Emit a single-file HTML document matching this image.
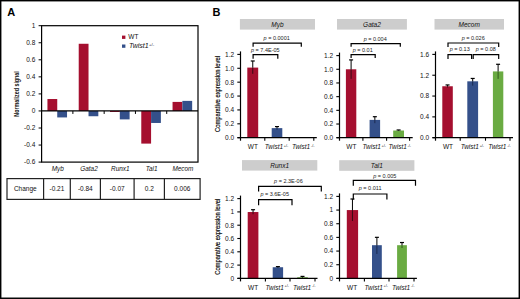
<!DOCTYPE html>
<html><head><meta charset="utf-8"><style>
html,body{margin:0;padding:0;background:#fff;}
svg{display:block;}
text{font-family:"Liberation Sans",sans-serif;}
</style></head><body>
<svg width="520" height="299" viewBox="0 0 520 299">
<rect width="520" height="299" fill="#fff"/>
<rect x="0.7" y="0.7" width="518.6" height="297.55" fill="none" stroke="#000" stroke-width="1.45"/>
<text x="7.20" y="16.10" font-size="11" text-anchor="start" fill="#000" font-weight="bold">A</text>
<rect x="47.44" y="99.02" width="9.80" height="11.94" fill="#a50f2f"/>
<rect x="57.24" y="110.95" width="9.80" height="6.48" fill="#34508a"/>
<rect x="78.72" y="43.77" width="9.80" height="67.18" fill="#a50f2f"/>
<rect x="88.52" y="110.95" width="9.80" height="5.29" fill="#34508a"/>
<rect x="110.00" y="110.95" width="9.80" height="1.02" fill="#a50f2f"/>
<rect x="119.80" y="110.95" width="9.80" height="8.44" fill="#34508a"/>
<rect x="141.28" y="110.95" width="9.80" height="32.65" fill="#a50f2f"/>
<rect x="151.08" y="110.95" width="9.80" height="12.02" fill="#34508a"/>
<rect x="172.56" y="101.91" width="9.80" height="9.04" fill="#a50f2f"/>
<rect x="182.36" y="100.89" width="9.80" height="10.06" fill="#34508a"/>
<rect x="41.6" y="25.7" width="156.40" height="136.40" fill="none" stroke="#000" stroke-width="1.2"/>
<line x1="41.60" y1="110.95" x2="198.00" y2="110.95" stroke="#000" stroke-width="1.3"/>
<line x1="38.60" y1="25.70" x2="41.60" y2="25.70" stroke="#000" stroke-width="1"/>
<text x="35.30" y="28.00" font-size="6.5" text-anchor="end" fill="#111">1</text>
<line x1="38.60" y1="42.75" x2="41.60" y2="42.75" stroke="#000" stroke-width="1"/>
<text x="35.30" y="45.05" font-size="6.5" text-anchor="end" fill="#111">0.8</text>
<line x1="38.60" y1="59.80" x2="41.60" y2="59.80" stroke="#000" stroke-width="1"/>
<text x="35.30" y="62.10" font-size="6.5" text-anchor="end" fill="#111">0.6</text>
<line x1="38.60" y1="76.85" x2="41.60" y2="76.85" stroke="#000" stroke-width="1"/>
<text x="35.30" y="79.15" font-size="6.5" text-anchor="end" fill="#111">0.4</text>
<line x1="38.60" y1="93.90" x2="41.60" y2="93.90" stroke="#000" stroke-width="1"/>
<text x="35.30" y="96.20" font-size="6.5" text-anchor="end" fill="#111">0.2</text>
<line x1="38.60" y1="110.95" x2="41.60" y2="110.95" stroke="#000" stroke-width="1"/>
<text x="35.30" y="113.25" font-size="6.5" text-anchor="end" fill="#111">0</text>
<line x1="38.60" y1="128.00" x2="41.60" y2="128.00" stroke="#000" stroke-width="1"/>
<text x="35.30" y="130.30" font-size="6.5" text-anchor="end" fill="#111">-0.2</text>
<line x1="38.60" y1="145.05" x2="41.60" y2="145.05" stroke="#000" stroke-width="1"/>
<text x="35.30" y="147.35" font-size="6.5" text-anchor="end" fill="#111">-0.4</text>
<line x1="38.60" y1="162.10" x2="41.60" y2="162.10" stroke="#000" stroke-width="1"/>
<text x="35.30" y="164.40" font-size="6.5" text-anchor="end" fill="#111">-0.6</text>
<line x1="72.88" y1="110.95" x2="72.88" y2="113.95" stroke="#000" stroke-width="1"/>
<line x1="104.16" y1="110.95" x2="104.16" y2="113.95" stroke="#000" stroke-width="1"/>
<line x1="135.44" y1="110.95" x2="135.44" y2="113.95" stroke="#000" stroke-width="1"/>
<line x1="166.72" y1="110.95" x2="166.72" y2="113.95" stroke="#000" stroke-width="1"/>
<rect x="122.00" y="35.60" width="3.40" height="3.30" fill="#a50f2f"/>
<rect x="122.00" y="44.50" width="3.40" height="3.30" fill="#34508a"/>
<text x="128.30" y="39.30" font-size="6.5" text-anchor="start" fill="#111">WT</text>
<text x="129.00" y="48.30" font-size="7" text-anchor="start" fill="#111" font-style="italic">Twist1<tspan font-size="4.2" dx="0.4" dy="-2.6" font-style="normal">+/-</tspan></text>
<text transform="translate(18.9,116.7) rotate(-90)" font-size="7.5" font-weight="bold" fill="#111" textLength="45.5" lengthAdjust="spacingAndGlyphs">Normalized signal</text>
<text x="57.74" y="171.20" font-size="6.4" text-anchor="middle" fill="#111" font-style="italic">Myb</text>
<text x="89.02" y="171.20" font-size="6.4" text-anchor="middle" fill="#111" font-style="italic">Gata2</text>
<text x="120.30" y="171.20" font-size="6.4" text-anchor="middle" fill="#111" font-style="italic">Runx1</text>
<text x="151.58" y="171.20" font-size="6.4" text-anchor="middle" fill="#111" font-style="italic">Tal1</text>
<text x="182.86" y="171.20" font-size="6.4" text-anchor="middle" fill="#111" font-style="italic">Mecom</text>
<rect x="7" y="178.6" width="193.10" height="20.80" fill="none" stroke="#222" stroke-width="1.2"/>
<line x1="43.60" y1="178.60" x2="43.60" y2="199.40" stroke="#222" stroke-width="1.2"/>
<line x1="70.30" y1="178.60" x2="70.30" y2="199.40" stroke="#222" stroke-width="1.2"/>
<line x1="100.40" y1="178.60" x2="100.40" y2="199.40" stroke="#222" stroke-width="1.2"/>
<line x1="134.10" y1="178.60" x2="134.10" y2="199.40" stroke="#222" stroke-width="1.2"/>
<line x1="164.40" y1="178.60" x2="164.40" y2="199.40" stroke="#222" stroke-width="1.2"/>
<text x="25.30" y="191.00" font-size="6.5" text-anchor="middle" fill="#111">Change</text>
<text x="56.95" y="191.00" font-size="6.5" text-anchor="middle" fill="#111">-0.21</text>
<text x="85.35" y="191.00" font-size="6.5" text-anchor="middle" fill="#111">-0.84</text>
<text x="117.25" y="191.00" font-size="6.5" text-anchor="middle" fill="#111">-0.07</text>
<text x="149.25" y="191.00" font-size="6.5" text-anchor="middle" fill="#111">0.2</text>
<text x="182.25" y="191.00" font-size="6.5" text-anchor="middle" fill="#111">0.006</text>
<text x="212.60" y="16.30" font-size="11" text-anchor="start" fill="#000" font-weight="bold">B</text>
<rect x="239.90" y="19.00" width="75.10" height="10.60" fill="#cdcdcd"/>
<text x="277.45" y="26.60" font-size="6.5" text-anchor="middle" fill="#111" font-style="italic">Myb</text>
<rect x="247.30" y="67.59" width="10.90" height="70.11" fill="#a50f2f"/>
<line x1="252.75" y1="60.99" x2="252.75" y2="67.59" stroke="#000" stroke-width="1"/>
<line x1="252.75" y1="67.59" x2="252.75" y2="73.84" stroke="#3a0a14" stroke-width="1"/>
<line x1="250.75" y1="60.99" x2="254.75" y2="60.99" stroke="#000" stroke-width="1.2"/>
<rect x="271.70" y="128.12" width="10.60" height="9.58" fill="#34508a"/>
<line x1="277.00" y1="126.59" x2="277.00" y2="128.12" stroke="#000" stroke-width="1"/>
<line x1="277.00" y1="128.12" x2="277.00" y2="129.72" stroke="#1a2a50" stroke-width="1"/>
<line x1="275.00" y1="126.59" x2="279.00" y2="126.59" stroke="#000" stroke-width="1.2"/>
<line x1="237.50" y1="137.70" x2="316.80" y2="137.70" stroke="#000" stroke-width="1.2"/>
<line x1="240.50" y1="51.40" x2="240.50" y2="140.70" stroke="#000" stroke-width="1.2"/>
<line x1="237.30" y1="137.70" x2="240.50" y2="137.70" stroke="#000" stroke-width="1.1"/>
<text x="234.10" y="140.10" font-size="6.5" text-anchor="end" fill="#111">0.0</text>
<line x1="237.30" y1="123.82" x2="240.50" y2="123.82" stroke="#000" stroke-width="1.1"/>
<text x="234.10" y="126.22" font-size="6.5" text-anchor="end" fill="#111">0.2</text>
<line x1="237.30" y1="109.93" x2="240.50" y2="109.93" stroke="#000" stroke-width="1.1"/>
<text x="234.10" y="112.33" font-size="6.5" text-anchor="end" fill="#111">0.4</text>
<line x1="237.30" y1="96.05" x2="240.50" y2="96.05" stroke="#000" stroke-width="1.1"/>
<text x="234.10" y="98.45" font-size="6.5" text-anchor="end" fill="#111">0.6</text>
<line x1="237.30" y1="82.17" x2="240.50" y2="82.17" stroke="#000" stroke-width="1.1"/>
<text x="234.10" y="84.57" font-size="6.5" text-anchor="end" fill="#111">0.8</text>
<line x1="237.30" y1="68.28" x2="240.50" y2="68.28" stroke="#000" stroke-width="1.1"/>
<text x="234.10" y="70.68" font-size="6.5" text-anchor="end" fill="#111">1.0</text>
<line x1="237.30" y1="54.40" x2="240.50" y2="54.40" stroke="#000" stroke-width="1.1"/>
<text x="234.10" y="56.80" font-size="6.5" text-anchor="end" fill="#111">1.2</text>
<line x1="264.80" y1="137.70" x2="264.80" y2="140.70" stroke="#000" stroke-width="1.1"/>
<line x1="289.20" y1="137.70" x2="289.20" y2="140.70" stroke="#000" stroke-width="1.1"/>
<line x1="313.80" y1="137.70" x2="313.80" y2="140.70" stroke="#000" stroke-width="1.1"/>
<text x="252.85" y="149.20" font-size="6.5" text-anchor="middle" fill="#111">WT</text>
<text x="264.80" y="149.20" font-size="6.5" text-anchor="start" fill="#111" font-style="italic">Twist1<tspan font-size="3.7" dx="0.7" dy="-2.7" font-style="normal">+/-</tspan></text>
<text x="291.90" y="149.20" font-size="6.5" text-anchor="start" fill="#111" font-style="italic">Twist1<tspan font-size="3.7" dx="0.7" dy="-2.7" font-style="normal">-/-</tspan></text>
<text transform="translate(219.6,132) rotate(-90)" font-size="6.5" fill="#000" stroke="#000" stroke-width="0.15" textLength="76" lengthAdjust="spacingAndGlyphs">Comparative expression level</text>
<polyline points="253.1,46.8 253.1,43.1 301.3,43.1 301.3,46.8" fill="none" stroke="#000" stroke-width="1.2"/>
<text x="276.70" y="40.10" font-size="5.5" text-anchor="middle" fill="#222"><tspan font-style="italic">p</tspan> = 0.0001</text>
<polyline points="253.1,58.8 253.1,54.6 277.8,54.6 277.8,58.8" fill="none" stroke="#000" stroke-width="1.2"/>
<text x="265.30" y="51.70" font-size="5.5" text-anchor="middle" fill="#222"><tspan font-style="italic">p</tspan> = 7.4E-05</text>
<rect x="337.00" y="19.00" width="69.90" height="10.60" fill="#cdcdcd"/>
<text x="371.95" y="26.60" font-size="6.5" text-anchor="middle" fill="#111" font-style="italic">Gata2</text>
<rect x="345.90" y="69.28" width="10.40" height="68.42" fill="#a50f2f"/>
<line x1="351.10" y1="59.91" x2="351.10" y2="69.28" stroke="#000" stroke-width="1"/>
<line x1="351.10" y1="69.28" x2="351.10" y2="78.86" stroke="#3a0a14" stroke-width="1"/>
<line x1="349.10" y1="59.91" x2="353.10" y2="59.91" stroke="#000" stroke-width="1.2"/>
<rect x="369.60" y="119.91" width="10.50" height="17.79" fill="#34508a"/>
<line x1="374.85" y1="116.70" x2="374.85" y2="119.91" stroke="#000" stroke-width="1"/>
<line x1="374.85" y1="119.91" x2="374.85" y2="123.20" stroke="#1a2a50" stroke-width="1"/>
<line x1="372.85" y1="116.70" x2="376.85" y2="116.70" stroke="#000" stroke-width="1.2"/>
<rect x="393.20" y="130.52" width="10.80" height="7.18" fill="#6aab42"/>
<line x1="398.60" y1="129.97" x2="398.60" y2="130.52" stroke="#000" stroke-width="1"/>
<line x1="398.60" y1="130.52" x2="398.60" y2="131.06" stroke="#2f5a1c" stroke-width="1"/>
<line x1="396.60" y1="129.97" x2="400.60" y2="129.97" stroke="#000" stroke-width="1.2"/>
<line x1="336.50" y1="137.70" x2="412.70" y2="137.70" stroke="#000" stroke-width="1.2"/>
<line x1="339.50" y1="52.60" x2="339.50" y2="140.70" stroke="#000" stroke-width="1.2"/>
<line x1="336.30" y1="137.70" x2="339.50" y2="137.70" stroke="#000" stroke-width="1.1"/>
<text x="333.10" y="140.10" font-size="6.5" text-anchor="end" fill="#111">0.0</text>
<line x1="336.30" y1="124.02" x2="339.50" y2="124.02" stroke="#000" stroke-width="1.1"/>
<text x="333.10" y="126.42" font-size="6.5" text-anchor="end" fill="#111">0.2</text>
<line x1="336.30" y1="110.33" x2="339.50" y2="110.33" stroke="#000" stroke-width="1.1"/>
<text x="333.10" y="112.73" font-size="6.5" text-anchor="end" fill="#111">0.4</text>
<line x1="336.30" y1="96.65" x2="339.50" y2="96.65" stroke="#000" stroke-width="1.1"/>
<text x="333.10" y="99.05" font-size="6.5" text-anchor="end" fill="#111">0.6</text>
<line x1="336.30" y1="82.97" x2="339.50" y2="82.97" stroke="#000" stroke-width="1.1"/>
<text x="333.10" y="85.37" font-size="6.5" text-anchor="end" fill="#111">0.8</text>
<line x1="336.30" y1="69.28" x2="339.50" y2="69.28" stroke="#000" stroke-width="1.1"/>
<text x="333.10" y="71.68" font-size="6.5" text-anchor="end" fill="#111">1.0</text>
<line x1="336.30" y1="55.60" x2="339.50" y2="55.60" stroke="#000" stroke-width="1.1"/>
<text x="333.10" y="58.00" font-size="6.5" text-anchor="end" fill="#111">1.2</text>
<line x1="362.90" y1="137.70" x2="362.90" y2="140.70" stroke="#000" stroke-width="1.1"/>
<line x1="386.60" y1="137.70" x2="386.60" y2="140.70" stroke="#000" stroke-width="1.1"/>
<line x1="409.60" y1="137.70" x2="409.60" y2="140.70" stroke="#000" stroke-width="1.1"/>
<text x="351.40" y="149.20" font-size="6.5" text-anchor="middle" fill="#111">WT</text>
<text x="362.55" y="149.20" font-size="6.5" text-anchor="start" fill="#111" font-style="italic">Twist1<tspan font-size="3.7" dx="0.7" dy="-2.7" font-style="normal">+/-</tspan></text>
<text x="388.50" y="149.20" font-size="6.5" text-anchor="start" fill="#111" font-style="italic">Twist1<tspan font-size="3.7" dx="0.7" dy="-2.7" font-style="normal">-/-</tspan></text>
<polyline points="351.1,46.8 351.1,43.7 400.3,43.7 400.3,46.8" fill="none" stroke="#000" stroke-width="1.2"/>
<text x="375.20" y="40.70" font-size="5.5" text-anchor="middle" fill="#222"><tspan font-style="italic">p</tspan> = 0.004</text>
<polyline points="351.1,58.0 351.1,54.6 375.2,54.6 375.2,58.0" fill="none" stroke="#000" stroke-width="1.2"/>
<text x="362.70" y="52.10" font-size="5.5" text-anchor="middle" fill="#222"><tspan font-style="italic">p</tspan> = 0.01</text>
<rect x="434.50" y="19.00" width="69.50" height="10.60" fill="#cdcdcd"/>
<text x="469.25" y="26.60" font-size="6.5" text-anchor="middle" fill="#111" font-style="italic">Mecom</text>
<rect x="442.30" y="86.26" width="10.50" height="51.44" fill="#a50f2f"/>
<line x1="447.55" y1="84.96" x2="447.55" y2="86.26" stroke="#000" stroke-width="1"/>
<line x1="447.55" y1="86.26" x2="447.55" y2="87.46" stroke="#3a0a14" stroke-width="1"/>
<line x1="445.55" y1="84.96" x2="449.55" y2="84.96" stroke="#000" stroke-width="1.2"/>
<rect x="467.30" y="81.32" width="10.80" height="56.38" fill="#34508a"/>
<line x1="472.70" y1="78.45" x2="472.70" y2="81.32" stroke="#000" stroke-width="1"/>
<line x1="472.70" y1="81.32" x2="472.70" y2="85.64" stroke="#1a2a50" stroke-width="1"/>
<line x1="470.70" y1="78.45" x2="474.70" y2="78.45" stroke="#000" stroke-width="1.2"/>
<rect x="492.90" y="71.42" width="10.40" height="66.28" fill="#6aab42"/>
<line x1="498.10" y1="64.29" x2="498.10" y2="71.42" stroke="#000" stroke-width="1"/>
<line x1="498.10" y1="71.42" x2="498.10" y2="78.87" stroke="#2f5a1c" stroke-width="1"/>
<line x1="496.10" y1="64.29" x2="500.10" y2="64.29" stroke="#000" stroke-width="1.2"/>
<line x1="432.50" y1="137.70" x2="513.00" y2="137.70" stroke="#000" stroke-width="1.2"/>
<line x1="435.50" y1="51.40" x2="435.50" y2="140.70" stroke="#000" stroke-width="1.2"/>
<line x1="432.30" y1="137.70" x2="435.50" y2="137.70" stroke="#000" stroke-width="1.1"/>
<text x="429.10" y="140.10" font-size="6.5" text-anchor="end" fill="#111">0.0</text>
<line x1="432.30" y1="116.88" x2="435.50" y2="116.88" stroke="#000" stroke-width="1.1"/>
<text x="429.10" y="119.28" font-size="6.5" text-anchor="end" fill="#111">0.4</text>
<line x1="432.30" y1="96.05" x2="435.50" y2="96.05" stroke="#000" stroke-width="1.1"/>
<text x="429.10" y="98.45" font-size="6.5" text-anchor="end" fill="#111">0.8</text>
<line x1="432.30" y1="75.23" x2="435.50" y2="75.23" stroke="#000" stroke-width="1.1"/>
<text x="429.10" y="77.63" font-size="6.5" text-anchor="end" fill="#111">1.2</text>
<line x1="432.30" y1="54.40" x2="435.50" y2="54.40" stroke="#000" stroke-width="1.1"/>
<text x="429.10" y="56.80" font-size="6.5" text-anchor="end" fill="#111">1.6</text>
<line x1="460.20" y1="137.70" x2="460.20" y2="140.70" stroke="#000" stroke-width="1.1"/>
<line x1="485.50" y1="137.70" x2="485.50" y2="140.70" stroke="#000" stroke-width="1.1"/>
<line x1="510.00" y1="137.70" x2="510.00" y2="140.70" stroke="#000" stroke-width="1.1"/>
<text x="448.05" y="149.20" font-size="6.5" text-anchor="middle" fill="#111">WT</text>
<text x="460.65" y="149.20" font-size="6.5" text-anchor="start" fill="#111" font-style="italic">Twist1<tspan font-size="3.7" dx="0.7" dy="-2.7" font-style="normal">+/-</tspan></text>
<text x="488.15" y="149.20" font-size="6.5" text-anchor="start" fill="#111" font-style="italic">Twist1<tspan font-size="3.7" dx="0.7" dy="-2.7" font-style="normal">-/-</tspan></text>
<polyline points="448.0,46.9 448.0,43.0 498.7,43.0 498.7,46.9" fill="none" stroke="#000" stroke-width="1.2"/>
<text x="473.20" y="40.10" font-size="5.5" text-anchor="middle" fill="#222"><tspan font-style="italic">p</tspan> = 0.026</text>
<polyline points="448.0,58.9 448.0,54.6 471.6,54.6 471.6,58.9" fill="none" stroke="#000" stroke-width="1.2"/>
<text x="459.70" y="51.10" font-size="5.5" text-anchor="middle" fill="#222"><tspan font-style="italic">p</tspan> = 0.13</text>
<polyline points="473.2,58.9 473.2,54.6 498.7,54.6 498.7,58.9" fill="none" stroke="#000" stroke-width="1.2"/>
<text x="485.80" y="51.10" font-size="5.5" text-anchor="middle" fill="#222"><tspan font-style="italic">p</tspan> = 0.08</text>
<rect x="242.00" y="160.10" width="75.30" height="10.50" fill="#cdcdcd"/>
<text x="279.65" y="167.65" font-size="6.5" text-anchor="middle" fill="#111" font-style="italic">Runx1</text>
<rect x="247.70" y="212.03" width="10.70" height="66.37" fill="#a50f2f"/>
<line x1="253.05" y1="209.71" x2="253.05" y2="212.03" stroke="#000" stroke-width="1"/>
<line x1="253.05" y1="212.03" x2="253.05" y2="214.23" stroke="#3a0a14" stroke-width="1"/>
<line x1="251.05" y1="209.71" x2="255.05" y2="209.71" stroke="#000" stroke-width="1.2"/>
<rect x="272.70" y="267.23" width="10.40" height="11.17" fill="#34508a"/>
<line x1="277.90" y1="266.63" x2="277.90" y2="267.23" stroke="#000" stroke-width="1"/>
<line x1="277.90" y1="267.23" x2="277.90" y2="268.09" stroke="#1a2a50" stroke-width="1"/>
<line x1="275.90" y1="266.63" x2="279.90" y2="266.63" stroke="#000" stroke-width="1.2"/>
<rect x="297.20" y="277.27" width="10.60" height="1.13" fill="#6aab42"/>
<line x1="302.50" y1="276.40" x2="302.50" y2="277.27" stroke="#000" stroke-width="1"/>
<line x1="302.50" y1="277.27" x2="302.50" y2="278.07" stroke="#2f5a1c" stroke-width="1"/>
<line x1="300.50" y1="276.40" x2="304.50" y2="276.40" stroke="#000" stroke-width="1.2"/>
<line x1="237.50" y1="278.40" x2="317.50" y2="278.40" stroke="#000" stroke-width="1.2"/>
<line x1="240.50" y1="195.60" x2="240.50" y2="281.40" stroke="#000" stroke-width="1.2"/>
<line x1="237.30" y1="278.40" x2="240.50" y2="278.40" stroke="#000" stroke-width="1.1"/>
<text x="234.10" y="280.80" font-size="6.5" text-anchor="end" fill="#111">0</text>
<line x1="237.30" y1="265.10" x2="240.50" y2="265.10" stroke="#000" stroke-width="1.1"/>
<text x="234.10" y="267.50" font-size="6.5" text-anchor="end" fill="#111">0.2</text>
<line x1="237.30" y1="251.80" x2="240.50" y2="251.80" stroke="#000" stroke-width="1.1"/>
<text x="234.10" y="254.20" font-size="6.5" text-anchor="end" fill="#111">0.4</text>
<line x1="237.30" y1="238.50" x2="240.50" y2="238.50" stroke="#000" stroke-width="1.1"/>
<text x="234.10" y="240.90" font-size="6.5" text-anchor="end" fill="#111">0.6</text>
<line x1="237.30" y1="225.20" x2="240.50" y2="225.20" stroke="#000" stroke-width="1.1"/>
<text x="234.10" y="227.60" font-size="6.5" text-anchor="end" fill="#111">0.8</text>
<line x1="237.30" y1="211.90" x2="240.50" y2="211.90" stroke="#000" stroke-width="1.1"/>
<text x="234.10" y="214.30" font-size="6.5" text-anchor="end" fill="#111">1</text>
<line x1="237.30" y1="198.60" x2="240.50" y2="198.60" stroke="#000" stroke-width="1.1"/>
<text x="234.10" y="201.00" font-size="6.5" text-anchor="end" fill="#111">1.2</text>
<line x1="265.40" y1="278.40" x2="265.40" y2="281.40" stroke="#000" stroke-width="1.1"/>
<line x1="290.00" y1="278.40" x2="290.00" y2="281.40" stroke="#000" stroke-width="1.1"/>
<line x1="315.00" y1="278.40" x2="315.00" y2="281.40" stroke="#000" stroke-width="1.1"/>
<text x="253.15" y="289.60" font-size="6.5" text-anchor="middle" fill="#111">WT</text>
<text x="265.50" y="289.60" font-size="6.5" text-anchor="start" fill="#111" font-style="italic">Twist1<tspan font-size="3.7" dx="0.7" dy="-2.7" font-style="normal">+/-</tspan></text>
<text x="292.90" y="289.60" font-size="6.5" text-anchor="start" fill="#111" font-style="italic">Twist1<tspan font-size="3.7" dx="0.7" dy="-2.7" font-style="normal">-/-</tspan></text>
<text transform="translate(219.6,274.8) rotate(-90)" font-size="6.5" fill="#000" stroke="#000" stroke-width="0.15" textLength="76" lengthAdjust="spacingAndGlyphs">Comparative expression level</text>
<polyline points="258.6,191.6 258.6,186.4 321.3,186.4 321.3,191.6" fill="none" stroke="#000" stroke-width="1.2"/>
<text x="288.40" y="182.50" font-size="5.5" text-anchor="middle" fill="#222"><tspan font-style="italic">p</tspan> = 2.3E-06</text>
<polyline points="258.6,205.3 258.6,199.7 292.0,199.7 292.0,205.3" fill="none" stroke="#000" stroke-width="1.2"/>
<text x="274.70" y="196.10" font-size="5.5" text-anchor="middle" fill="#222"><tspan font-style="italic">p</tspan> = 3.6E-05</text>
<rect x="339.20" y="160.20" width="75.20" height="10.60" fill="#cdcdcd"/>
<text x="376.80" y="167.80" font-size="6.5" text-anchor="middle" fill="#111" font-style="italic">Tal1</text>
<rect x="346.80" y="210.07" width="11.30" height="68.33" fill="#a50f2f"/>
<line x1="352.45" y1="199.00" x2="352.45" y2="210.07" stroke="#000" stroke-width="1"/>
<line x1="352.45" y1="210.07" x2="352.45" y2="221.00" stroke="#3a0a14" stroke-width="1"/>
<line x1="350.45" y1="199.00" x2="354.45" y2="199.00" stroke="#000" stroke-width="1.2"/>
<rect x="372.00" y="245.19" width="9.80" height="33.21" fill="#34508a"/>
<line x1="376.90" y1="237.33" x2="376.90" y2="245.19" stroke="#000" stroke-width="1"/>
<line x1="376.90" y1="245.19" x2="376.90" y2="253.94" stroke="#1a2a50" stroke-width="1"/>
<line x1="374.90" y1="237.33" x2="378.90" y2="237.33" stroke="#000" stroke-width="1.2"/>
<rect x="397.10" y="245.19" width="9.80" height="33.21" fill="#6aab42"/>
<line x1="402.00" y1="242.52" x2="402.00" y2="245.19" stroke="#000" stroke-width="1"/>
<line x1="402.00" y1="245.19" x2="402.00" y2="247.99" stroke="#2f5a1c" stroke-width="1"/>
<line x1="400.00" y1="242.52" x2="404.00" y2="242.52" stroke="#000" stroke-width="1.2"/>
<line x1="336.50" y1="278.40" x2="416.90" y2="278.40" stroke="#000" stroke-width="1.2"/>
<line x1="339.50" y1="193.40" x2="339.50" y2="281.40" stroke="#000" stroke-width="1.2"/>
<line x1="336.30" y1="278.40" x2="339.50" y2="278.40" stroke="#000" stroke-width="1.1"/>
<text x="333.10" y="280.80" font-size="6.5" text-anchor="end" fill="#111">0</text>
<line x1="336.30" y1="264.73" x2="339.50" y2="264.73" stroke="#000" stroke-width="1.1"/>
<text x="333.10" y="267.13" font-size="6.5" text-anchor="end" fill="#111">0.2</text>
<line x1="336.30" y1="251.07" x2="339.50" y2="251.07" stroke="#000" stroke-width="1.1"/>
<text x="333.10" y="253.47" font-size="6.5" text-anchor="end" fill="#111">0.4</text>
<line x1="336.30" y1="237.40" x2="339.50" y2="237.40" stroke="#000" stroke-width="1.1"/>
<text x="333.10" y="239.80" font-size="6.5" text-anchor="end" fill="#111">0.6</text>
<line x1="336.30" y1="223.73" x2="339.50" y2="223.73" stroke="#000" stroke-width="1.1"/>
<text x="333.10" y="226.13" font-size="6.5" text-anchor="end" fill="#111">0.8</text>
<line x1="336.30" y1="210.07" x2="339.50" y2="210.07" stroke="#000" stroke-width="1.1"/>
<text x="333.10" y="212.47" font-size="6.5" text-anchor="end" fill="#111">1</text>
<line x1="336.30" y1="196.40" x2="339.50" y2="196.40" stroke="#000" stroke-width="1.1"/>
<text x="333.10" y="198.80" font-size="6.5" text-anchor="end" fill="#111">1.2</text>
<line x1="364.40" y1="278.40" x2="364.40" y2="281.40" stroke="#000" stroke-width="1.1"/>
<line x1="389.00" y1="278.40" x2="389.00" y2="281.40" stroke="#000" stroke-width="1.1"/>
<line x1="414.00" y1="278.40" x2="414.00" y2="281.40" stroke="#000" stroke-width="1.1"/>
<text x="352.15" y="289.60" font-size="6.5" text-anchor="middle" fill="#111">WT</text>
<text x="364.50" y="289.60" font-size="6.5" text-anchor="start" fill="#111" font-style="italic">Twist1<tspan font-size="3.7" dx="0.7" dy="-2.7" font-style="normal">+/-</tspan></text>
<text x="391.90" y="289.60" font-size="6.5" text-anchor="start" fill="#111" font-style="italic">Twist1<tspan font-size="3.7" dx="0.7" dy="-2.7" font-style="normal">-/-</tspan></text>
<polyline points="353.3,185.8 353.3,180.3 415.5,180.3 415.5,185.8" fill="none" stroke="#000" stroke-width="1.2"/>
<text x="384.80" y="177.70" font-size="5.5" text-anchor="middle" fill="#222"><tspan font-style="italic">p</tspan> = 0.005</text>
<polyline points="353.3,199.6 353.3,194.0 386.9,194.0 386.9,199.6" fill="none" stroke="#000" stroke-width="1.2"/>
<text x="370.10" y="189.80" font-size="5.5" text-anchor="middle" fill="#222"><tspan font-style="italic">p</tspan> = 0.011</text>
</svg>
</body></html>
